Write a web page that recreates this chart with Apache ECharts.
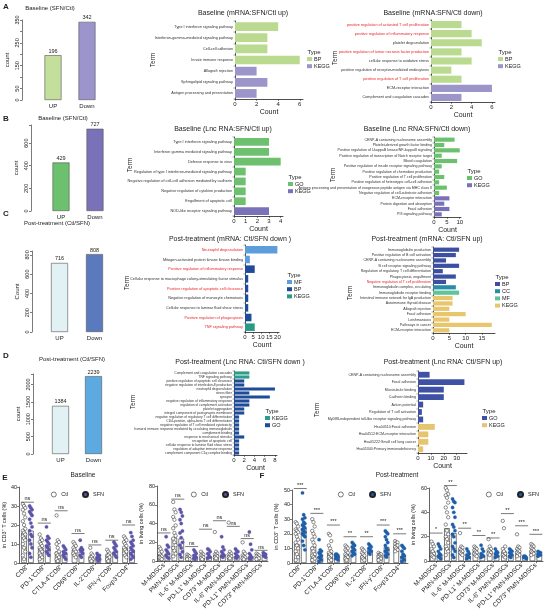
<!DOCTYPE html>
<html>
<head>
<meta charset="utf-8">
<script src="https://cdn.jsdelivr.net/npm/echarts@6/dist/echarts.min.js"></script>
<style>
html, body { margin: 0; padding: 0; background: #fff; }
#fig { width: 546px; height: 612px; }
</style>
</head>
<body>
<div id="fig"></div>
<script>
// ---- data: up / down counts ----
const countCats = ['UP', 'Down'];
const countA = [196, 342];
const countB = [429, 727];
const countC = [716, 808];
const countD = [1384, 2239];

// ---- data: enrichment terms ----
const termsA1 = ['Type I interferon signaling pathway', 'Interferon-gamma-mediated signaling pathway', 'Cell-cell adhesion',
  'Innate immune response', 'Allograft rejection', 'Sphingolipid signaling pathway', 'Antigen processing and presentation'];
const valsA1 = [4, 3, 3, 6, 2, 3, 2];
const typesA1 = ['BP', 'BP', 'BP', 'BP', 'KEGG', 'KEGG', 'KEGG'];

const termsA2 = ['positive regulation of activated T cell proliferation', 'positive regulation of inflammatory response',
  'platelet degranulation', 'positive regulation of tumor necrosis factor production', 'cellular response to oxidative stress',
  'positive regulation of receptor-mediated endocytosis', 'positive regulation of T cell proliferation',
  'ECM-receptor interaction', 'Complement and coagulation cascades'];
const valsA2 = [3, 4, 5, 3, 4, 2, 3, 6, 3];
const typesA2 = ['BP', 'BP', 'BP', 'BP', 'BP', 'BP', 'BP', 'KEGG', 'KEGG'];
const redA2 = [1, 1, 0, 1, 0, 0, 1, 0, 0];

const termsB1 = ['Type I interferon signaling pathway', 'Interferon gamma mediated signaling pathway', 'Defense response to virus',
  'Regulation of type I interferon-mediated signaling pathway', 'Negative regulation of cell-cell adhesion mediated by cadherin',
  'Negative regulation of cytokine production', 'Engulfment of apoptotic cell', 'NOD-like receptor signaling pathway'];
const valsB1 = [3, 3, 4, 1, 1, 1, 1, 3];
const typesB1 = ['GO', 'GO', 'GO', 'GO', 'GO', 'GO', 'GO', 'KEGG'];

const termsB2 = ['CENP-A containing nucleosome assembly', 'Platelet-derived growth factor binding',
  'Positive regulation of I-kappaB kinase/NF-kappaB signaling', 'Positive regulation of transcription of Notch receptor target',
  'Blood coagulation', 'Positive regulation of insulin receptor signaling pathway', 'Positive regulation of chemokine production',
  'Positive regulation of T cell proliferation', 'Positive regulation of heterotypic cell-cell adhesion',
  'Antigen processing and presentation of exogenous peptide antigen via MHC class II',
  'Negative regulation of cell-substrate adhesion', 'ECM-receptor interaction', 'Protein digestion and absorption',
  'Focal adhesion', 'PI3 signaling pathway'];
const valsB2 = [8, 4, 10, 3, 9, 3, 2, 4, 2, 5, 2, 6, 4, 6, 3];
const typesB2 = ['GO', 'GO', 'GO', 'GO', 'GO', 'GO', 'GO', 'GO', 'GO', 'GO', 'GO', 'KEGG', 'KEGG', 'KEGG', 'KEGG'];

const termsC1 = ['Neutrophil degranulation', 'Mitogen-activated protein kinase kinase binding',
  'Positive regulation of inflammatory response', 'Cellular response to macrophage colony-stimulating factor stimulus',
  'Positive regulation of apoptotic cell clearance', 'Negative regulation of monocyte chemotaxis',
  'Cellular response to laminar fluid shear stress', 'Positive regulation of phagocytosis', 'TNF signaling pathway'];
const valsC1 = [20, 3, 6, 2, 2, 2, 2, 4, 6];
const typesC1 = ['MF', 'MF', 'BP', 'BP', 'BP', 'BP', 'BP', 'BP', 'KEGG'];
const redC1 = [1, 0, 1, 0, 1, 0, 0, 1, 1];

const termsC2 = ['Immunoglobulin production', 'Positive regulation of B cell activation', 'CENP-A containing nucleosome assembly',
  'B cell receptor signaling pathway', 'Regulation of regulatory T cell differentiation', 'Phagocytosis, engulfment',
  'Negative regulation of T cell proliferation', 'Immunoglobulin complex, circulating', 'Immunoglobulin receptor binding',
  'Intestinal immune network for IgA production', 'Autoimmune thyroid disease', 'Allograft rejection', 'Focal adhesion',
  'Leishmaniasis', 'Pathways in cancer', 'ECM-receptor interaction'];
const valsC2 = [8, 7, 4, 8, 3, 7, 4, 7, 8, 6, 6, 5, 10, 5, 18, 5];
const typesC2 = ['BP', 'BP', 'BP', 'BP', 'BP', 'BP', 'BP', 'CC', 'MF', 'KEGG', 'KEGG', 'KEGG', 'KEGG', 'KEGG', 'KEGG', 'KEGG'];
const redC2 = [0, 0, 0, 0, 0, 0, 1, 0, 0, 0, 0, 0, 0, 0, 0, 0];

const termsD1 = ['Complement and coagulation cascades', 'TNF signaling pathway', 'positive regulation of apoptotic cell clearance',
  'negative regulation of interleukin-8 production', 'neutrophil degranulation', 'stress fiber', 'synapse',
  'negative regulation of inflammatory response', 'regulation of complement activation', 'platelet aggregation',
  'integral component of postsynaptic membrane', 'negative regulation of regulatory T cell differentiation',
  'CD4-positive, alpha-beta T cell differentiation', 'negative regulation of T cell mediated cytotoxicity',
  'humoral immune response mediated by circulating immunoglobulin', 'complement binding', 'response to mechanical stimulus',
  'recognition of apoptotic cell', 'cellular response to laminar fluid shear stress', 'regulation of adaptive immune response',
  'complement component C1q complex binding'];
const valsD1 = [3, 3, 2, 2, 8, 3, 7, 3, 3, 2, 2, 1, 1, 1, 1, 1, 2, 1, 1, 1, 1];
const typesD1 = ['KEGG', 'KEGG', 'GO', 'GO', 'GO', 'GO', 'GO', 'GO', 'GO', 'GO', 'GO', 'GO', 'GO', 'GO', 'GO', 'GO', 'GO', 'GO', 'GO', 'GO', 'GO'];

const termsD2 = ['CENP-A containing nucleosome assembly', 'Focal adhesion', 'Microtubule binding', 'Cadherin binding',
  'Action potential', 'Regulation of T cell activation', 'MyD88-independent toll-like receptor signaling pathway',
  'Hsa04510:Focal adhesion', 'Hsa04512:ECM-receptor interaction', 'Hsa05222:Small cell lung cancer',
  'Hsa05340:Primary immunodeficiency'];
const valsD2 = [9, 36, 20, 20, 4, 3, 4, 13, 8, 8, 4];
const typesD2 = ['GO', 'GO', 'GO', 'GO', 'GO', 'GO', 'GO', 'KEGG', 'KEGG', 'KEGG', 'KEGG'];

// ---- data: flow cytometry (E baseline, F post-treatment) ----
const tCells = ['CD8⁺', 'PD-1⁺CD8⁺', 'CTLA-4⁺CD8⁺', 'CD69⁺CD8⁺', 'IL-2⁺CD8⁺', 'IFN-γ⁺CD8⁺', 'Foxp3⁺CD4⁺'];
const mdscs = ['M-MDSCs', 'PMN-MDSCs', 'IL-6⁺ M-MDSCs', 'PD-L1⁺ M-MDSCs', 'CD73⁺ M-MDSCs', 'IL-6⁺ PMN-MDSCs',
  'PD-L1⁺ PMN-MDSCs', 'CD73⁺ PMN-MDSCs'];

const baseTCtl = [[31, 30, 29, 28, 26, 24, 22, 20, 18, 17, 16, 15, 14, 13, 12, 10, 8, 6, 4, 2],
  [15, 13, 12, 11, 10, 9, 8, 7, 6, 5, 4, 3, 2], [25, 12, 11, 10, 8, 6, 5, 4, 3, 2, 1],
  [11, 10, 9, 8, 7, 6, 5, 4, 3], [8, 5, 4, 3, 3, 2, 2, 1], [7, 6, 5, 4, 4, 3, 2, 1],
  [14, 13, 12, 11, 10, 9, 8, 7, 6, 5, 4, 3]];
const baseTSfn = [[30, 29, 28, 27, 26, 25, 23, 21, 19, 17, 15, 14, 12, 10, 8, 5, 3],
  [19, 14, 13, 12, 11, 10, 9, 8, 7, 6, 5, 4], [9, 8, 7, 6, 5, 5, 4, 3, 2],
  [12, 8, 7, 7, 6, 5, 4, 3], [5, 4, 4, 3, 3, 2, 2, 1], [11, 10, 9, 8, 7, 6, 5, 4, 3],
  [16, 14, 12, 11, 10, 9, 8, 7, 6, 5, 4, 3, 2]];
const baseTCtlMean = [16, 8, 6, 7, 3, 4, 8];
const baseTSfnMean = [17, 9, 5, 6, 3, 6, 7];
const baseTSig = ['ns', 'ns', 'ns', 'ns', 'ns', 'ns', 'ns'];
const baseTSigY = [32, 21, 27.5, 15.5, 9.5, 12, 20];

const baseMCtl = [[15, 13, 10, 8, 6, 5, 4, 3, 2], [63, 55, 52, 47, 44, 38, 35, 30, 27, 24, 20, 17, 14, 11, 8, 5],
  [7, 6, 5, 4, 3, 2, 2], [10, 8, 7, 6, 5, 4, 3, 2], [31, 10, 8, 7, 6, 5, 4, 3],
  [41, 10, 8, 7, 6, 5, 4, 3], [20, 10, 8, 6, 5, 4, 3, 2], [8, 7, 6, 5, 4, 3, 2]];
const baseMSfn = [[26, 17, 15, 12, 10, 8, 6, 4, 3], [55, 52, 48, 44, 40, 32, 30, 25, 20, 17, 14, 10, 7, 4],
  [12, 10, 8, 6, 5, 4, 3, 2], [13, 12, 10, 8, 6, 4, 3], [26, 15, 12, 10, 8, 6, 5, 4],
  [13, 11, 10, 8, 6, 5, 4, 3], [31, 18, 12, 8, 6, 4, 3, 2], [9, 8, 7, 6, 5, 4]];
const baseMCtlMean = [6, 25, 3, 4, 6, 5, 4, 4];
const baseMSfnMean = [8, 24, 4, 5, 7, 5, 5, 5];
const baseMSig = ['ns', 'ns', 'ns', 'ns', 'ns', 'ns', 'ns', 'ns'];
const baseMSigY = [30, 66, 15.5, 34, 43, 37, 24, 11.5];

const postTCtl = [[28, 27, 25, 23, 22, 21, 20, 18, 16, 14, 12, 10, 8, 6, 4, 2],
  [30, 28, 25, 22, 20, 18, 16, 14, 12, 10, 8, 6, 5, 4, 3, 2], [20, 19, 15, 12, 10, 8, 7, 6, 5, 4, 3, 2],
  [12, 11, 10, 9, 8, 7, 6, 5, 4, 3, 2], [10, 9, 8, 7, 6, 5, 4, 3, 2], [7, 6, 6, 5, 5, 4, 4, 3, 3, 2],
  [15, 14, 14, 13, 12, 12, 11, 10, 9, 8]];
const postTSfn = [[48, 33, 31, 30, 28, 27, 26, 25, 24, 23, 22, 21, 20, 19, 18, 15, 12, 9],
  [16, 9, 8, 7, 6, 5, 4, 3, 2, 1], [6, 6, 5, 5, 4, 4, 3, 3, 2],
  [14, 13, 12, 11, 10, 9, 8, 7, 6, 5], [13, 12, 11, 10, 9, 8, 7, 6], [22, 21, 20, 18, 16, 14, 12, 10, 9, 8, 7, 6, 5, 4],
  [12, 11, 10, 8, 6, 5, 4, 3, 2, 1]];
const postTCtlMean = [13, 11, 7, 6, 5, 4, 12];
const postTSfnMean = [24, 4, 4, 9, 9, 11, 5];
const postTSig = ['***', '***', '***', '**', '**', '***', '***'];
const postTSigY = [51, 34, 26, 18, 18, 26, 20];

const postMCtl = [[16, 14, 12, 10, 8, 6, 5, 4, 3], [60, 58, 55, 54, 52, 48, 44, 40, 36, 30, 25, 22, 20, 18, 15, 12, 10, 8, 5],
  [23, 12, 11, 10, 9, 8, 7, 6, 5], [12, 11, 10, 9, 8, 7, 6, 5, 4], [18, 12, 10, 9, 8, 7, 6, 5],
  [33, 27, 12, 10, 8, 6, 5, 4, 3], [22, 12, 11, 10, 9, 8, 7, 6, 5, 4], [14, 13, 12, 11, 10, 9, 8, 7, 6, 5]];
const postMSfn = [[14, 12, 10, 8, 6, 5, 4, 3, 2], [51, 49, 48, 44, 40, 36, 30, 28, 25, 22, 20, 15, 12, 10, 8, 5, 3],
  [10, 8, 6, 5, 4, 3, 2], [13, 10, 8, 6, 5, 4, 3], [10, 8, 7, 6, 5, 4, 3],
  [10, 9, 8, 7, 6, 5, 4, 3], [4, 4, 3, 3, 3, 2], [8, 7, 7, 6, 6, 5, 4]];
const postMCtlMean = [8, 27, 9, 8, 8, 8, 8, 9];
const postMSfnMean = [5, 23, 4, 5, 5, 5, 3, 6];
const postMSig = ['*', '**', '**', '**', '**', '**', '***', '***'];
const postMSigY = [23, 62, 27, 21, 19, 39, 29, 22];

// ---- chart ----
const FONT = 'Liberation Sans';
const INK = '#222';
const chart = echarts.init(document.getElementById('fig'), null, { renderer: 'canvas' });
const option = {
  animation: false,
  backgroundColor: '#fff',
  textStyle: { fontFamily: FONT },
  title: [], legend: [], grid: [], xAxis: [], yAxis: [], series: [], graphic: []
};

function txt(x, y, text, size, extra) {
  const e = Object.assign({ type: 'text', x: x, y: y, silent: true,
    style: { text: text, fontSize: size, fontFamily: FONT, fill: INK, align: 'center', verticalAlign: 'middle' } }, extra || {});
  if (extra && extra.style) e.style = Object.assign({ text: text, fontSize: size, fontFamily: FONT, fill: INK, align: 'center', verticalAlign: 'middle' }, extra.style);
  option.graphic.push(e);
}

function addTitle(text, cx, top, size) {
  option.title.push({ text: text, left: cx, top: top, textAlign: 'center', padding: 0,
    textStyle: { fontSize: size, fontWeight: 'normal', color: INK, fontFamily: FONT } });
}

// barplot of up / down counts
function countPanel(p) {
  const gi = option.grid.length;
  option.grid.push({ left: p.left, top: p.top, width: p.width, height: p.height });
  option.xAxis.push({ gridIndex: gi, type: 'category', data: countCats,
    axisLine: { show: false }, axisTick: { show: false },
    axisLabel: { fontSize: 6, color: INK, margin: 3 } });
  option.yAxis.push({ gridIndex: gi, type: 'value', min: 0, max: p.max, interval: p.interval, offset: p.offset,
    axisLine: { show: true, lineStyle: { color: INK, width: 0.6 } },
    axisTick: { show: true, length: 2, lineStyle: { color: INK, width: 0.6 } },
    splitLine: { show: false },
    axisLabel: { rotate: 90, fontSize: 5.5, color: INK, margin: 2,
      formatter: v => (p.labels.indexOf(v) >= 0 ? String(v) : '') },
    name: p.yName, nameLocation: 'middle', nameGap: 12, nameTextStyle: { fontSize: 6, color: INK } });
  option.series.push({ type: 'bar', xAxisIndex: gi, yAxisIndex: gi, barWidth: 17,
    data: p.vals.map((v, i) => ({ value: v, itemStyle: { color: p.colors[i] } })),
    itemStyle: { borderColor: '#555', borderWidth: 0.6 },
    label: { show: true, position: 'top', distance: 1, fontSize: 5.5, color: INK } });
}

// enrichment bar chart, one series per term type
function goPanel(p) {
  const gi = option.grid.length;
  option.grid.push({ left: p.left, top: p.top, width: p.width, height: p.height });
  option.yAxis.push({ gridIndex: gi, type: 'category', data: p.terms, inverse: true,
    axisLine: { show: true, lineStyle: { color: INK, width: 0.8 } },
    axisTick: { show: true, length: 1.5, lineStyle: { color: INK, width: 0.4 } },
    axisLabel: { fontSize: p.fs, margin: 2, interval: 0,
      color: (v, i) => (p.red && p.red[i] ? '#e8262b' : '#333') } });
  option.xAxis.push({ gridIndex: gi, type: 'value', min: 0, max: p.max, interval: p.interval,
    axisLine: { show: true, lineStyle: { color: INK, width: 0.8 } },
    axisTick: { show: true, length: 2, lineStyle: { color: INK, width: 0.5 } },
    splitLine: { show: false },
    axisLabel: { fontSize: 6, color: INK, margin: 2, showMaxLabel: false },
    name: 'Count', nameLocation: 'middle', nameGap: 10, nameTextStyle: { fontSize: 7, color: INK } });
  const kinds = p.types.filter((t, i) => p.types.indexOf(t) === i);
  kinds.forEach(k => {
    option.series.push({ type: 'bar', name: k, xAxisIndex: gi, yAxisIndex: gi, stack: 'go' + gi,
      barCategoryGap: '22%', itemStyle: { color: p.colors[k] },
      data: p.vals.map((v, i) => (p.types[i] === k ? v : null)) });
  });
  addTitle(p.title, p.tx, p.ty, 7);
  txt(p.lx + 7, p.ly - 4, 'Type', 6);
  option.legend.push({ left: p.lx, top: p.ly, orient: 'vertical', itemWidth: 5, itemHeight: 4, itemGap: 1.2,
    padding: 0, selectedMode: false, icon: 'rect',
    textStyle: { fontSize: 5.5, color: INK, fontFamily: FONT, padding: [0, 0, 0, -3] },
    data: kinds.map(k => ({ name: k, itemStyle: { color: p.colors[k] } })) });
  txt(p.termX, p.termY, 'Term', 6.5, { rotation: Math.PI / 2 });
}

// scatter dot plot with mean bars and significance brackets
function dotPanel(p) {
  const gi = option.grid.length;
  option.grid.push({ left: p.left, top: p.top, width: p.width, height: p.height });
  option.xAxis.push({ gridIndex: gi, type: 'category', data: p.cats,
    axisLine: { show: true, lineStyle: { color: INK, width: 0.7 } },
    axisTick: { show: true, length: 2, alignWithLabel: true, lineStyle: { color: INK, width: 0.6 } },
    axisLabel: { rotate: 45, fontSize: 6.5, color: INK, margin: 3, interval: 0 } });
  option.yAxis.push({ gridIndex: gi, type: 'value', min: 0, max: p.max, interval: p.interval,
    axisLine: { show: true, lineStyle: { color: INK, width: 0.7 } },
    axisTick: { show: true, length: 2, lineStyle: { color: INK, width: 0.6 } },
    splitLine: { show: false },
    axisLabel: { fontSize: 5.5, color: INK, margin: 2 },
    name: p.yName, nameLocation: 'middle', nameGap: p.nameGap, nameTextStyle: { fontSize: 5.5, color: INK } });
  const barStyle = { color: '#fff', borderColor: INK, borderWidth: 0.6 };
  option.series.push({ type: 'bar', name: 'Ctl', xAxisIndex: gi, yAxisIndex: gi, barWidth: 5.5, barGap: '25%',
    itemStyle: barStyle, data: p.ctlMean, z: 1 });
  option.series.push({ type: 'bar', name: 'SFN', xAxisIndex: gi, yAxisIndex: gi, barWidth: 5.5, barGap: '25%',
    itemStyle: barStyle, data: p.sfnMean, z: 1 });
  [p.ctl, p.sfn].forEach((groups, g) => {
    const pts = [];
    groups.forEach((arr, ci) => arr.forEach((v, k) => pts.push([ci, v, g, k])));
    option.series.push({ type: 'custom', name: g ? 'SFN' : 'Ctl', xAxisIndex: gi, yAxisIndex: gi, z: 3,
      encode: { x: 0, y: 1 }, data: pts,
      renderItem: (params, api) => {
        const c = api.coord([api.value(0), api.value(1)]);
        const k = api.value(3);
        const x = c[0] + (g ? 3.4 : -3.4) + ((k % 3) - 1) * 1.2;
        return { type: 'circle', shape: { cx: x, cy: c[1], r: 1.7 },
          style: g ? { fill: p.color, stroke: p.color, lineWidth: 0.3 }
                   : { fill: '#fff', stroke: INK, lineWidth: 0.5 } };
      } });
  });
  option.series.push({ type: 'custom', xAxisIndex: gi, yAxisIndex: gi, z: 4, clip: false,
    encode: { x: 0, y: 1 }, data: p.sigY.map((y, i) => [i, y]),
    renderItem: (params, api) => {
      const c = api.coord([api.value(0), api.value(1)]);
      return { type: 'group', children: [
        { type: 'line', shape: { x1: c[0] - 6.5, y1: c[1], x2: c[0] + 6.5, y2: c[1] },
          style: { stroke: INK, lineWidth: 0.6 } },
        { type: 'text', x: c[0], y: c[1] - 0.3,
          style: { text: p.sig[params.dataIndex], fontSize: 5.5, fontFamily: FONT, fill: INK,
            align: 'center', verticalAlign: 'bottom' } }
      ] };
    } });
  option.legend.push({ left: p.lx, top: p.ly, orient: 'horizontal', itemWidth: 5, itemHeight: 5, itemGap: 14,
    padding: 0, selectedMode: false,
    textStyle: { fontSize: 5.5, color: INK, fontFamily: FONT },
    data: [{ name: 'Ctl', icon: 'circle', itemStyle: { color: '#fff', borderColor: INK, borderWidth: 0.6 } },
           { name: 'SFN', icon: 'circle', itemStyle: { color: p.color } }] });
}

// ---- panel letters ----
[['A', 6, 7], ['B', 6, 119], ['C', 6, 214], ['D', 6, 356], ['E', 5, 478], ['F', 262, 476]].forEach(l =>
  txt(l[1], l[2], l[0], 8, { style: { fontWeight: 'bold' } }));

// ---- count panels ----
addTitle('Baseline (SFN/Ctl)', 50, 5, 6);
countPanel({ vals: countA, colors: ['#c3df9b', '#9b95cc'], left: 36, top: 20, width: 68, height: 80, offset: 14,
  max: 350, interval: 50, labels: [0, 50, 150, 250, 350], yName: 'count' });
addTitle('Baseline (SFN/Ctl)', 63, 115, 6);
countPanel({ vals: countB, colors: ['#6cc06e', '#7a72b8'], left: 44, top: 125, width: 68, height: 86, offset: 13,
  max: 760, interval: 200, labels: [0, 200, 400, 600], yName: 'count' });
addTitle('Post-treatment (Ctl/SFN)', 57, 220, 6);
countPanel({ vals: countC, colors: ['#e2f2f4', '#5b79bd'], left: 42, top: 251, width: 70, height: 81, offset: 10,
  max: 840, interval: 200, labels: [0, 200, 400, 600, 800], yName: 'Count' });
addTitle('Post-treatment (Ctl/SFN)', 72, 356, 6);
countPanel({ vals: countD, colors: ['#e2f2f4', '#5daae0'], left: 44, top: 374, width: 66, height: 80, offset: 11,
  max: 2300, interval: 500, labels: [0, 500, 1000, 1500, 2000], yName: 'count' });

// ---- enrichment panels ----
goPanel({ terms: termsA1, vals: valsA1, types: typesA1, colors: { BP: '#b9da8f', KEGG: '#9c95c9' }, fs: 3.8,
  left: 235, top: 21, width: 68, height: 78, max: 6.3, interval: 2,
  title: 'Baseline (mRNA:SFN/Ctl up)', tx: 243, ty: 10, lx: 307, ly: 56, termX: 153, termY: 60 });
goPanel({ terms: termsA2, vals: valsA2, types: typesA2, red: redA2, colors: { BP: '#b9da8f', KEGG: '#9c95c9' }, fs: 3.8,
  left: 431, top: 20, width: 64, height: 82, max: 6.3, interval: 2,
  title: 'Baseline (mRNA:SFN/Ctl down)', tx: 433, ty: 10, lx: 498, ly: 56, termX: 335, termY: 58 });
goPanel({ terms: termsB1, vals: valsB1, types: typesB1, colors: { GO: '#6cc06e', KEGG: '#7a72b8' }, fs: 3.8,
  left: 234, top: 137, width: 49, height: 79, max: 4.2, interval: 1,
  title: 'Baseline (Lnc RNA:SFN/Ctl up)', tx: 223, ty: 126, lx: 288, ly: 181, termX: 130, termY: 165 });
goPanel({ terms: termsB2, vals: valsB2, types: typesB2, colors: { GO: '#6cc06e', KEGG: '#7a72b8' }, fs: 3.6,
  left: 434, top: 137, width: 27, height: 80, max: 10.5, interval: 5,
  title: 'Baseline (Lnc RNA:SFN/Ctl down)', tx: 417, ty: 126, lx: 467, ly: 175, termX: 333, termY: 175 });
goPanel({ terms: termsC1, vals: valsC1, types: typesC1, red: redC1,
  colors: { BP: '#1e4c98', MF: '#5d9ddb', KEGG: '#2a9a86' }, fs: 3.8,
  left: 245, top: 245, width: 34, height: 87, max: 21, interval: 5,
  title: 'Post-treatment (mRNA: Ctl/SFN down )', tx: 230, ty: 236, lx: 287, ly: 279, termX: 127, termY: 283 });
goPanel({ terms: termsC2, vals: valsC2, types: typesC2, red: redC2,
  colors: { BP: '#3c4fa0', CC: '#2a8ca8', MF: '#5cc59a', KEGG: '#e8c66e' }, fs: 3.6,
  left: 433, top: 247, width: 62, height: 86, max: 19, interval: 5,
  title: 'Post-treatment (mRNA: Ctl/SFN up)', tx: 427, ty: 236, lx: 495, ly: 281, termX: 350, termY: 293 });
goPanel({ terms: termsD1, vals: valsD1, types: typesD1, colors: { KEGG: '#2b9d88', GO: '#1e4c98' }, fs: 3.3,
  left: 234, top: 371, width: 43, height: 84, max: 8.4, interval: 2,
  title: 'Post-treatment (Lnc RNA: Ctl/SFN down )', tx: 240, ty: 359, lx: 265, ly: 415, termX: 133, termY: 402 });
goPanel({ terms: termsD2, vals: valsD2, types: typesD2, colors: { GO: '#3f51a5', KEGG: '#e6c470' }, fs: 3.6,
  left: 418, top: 371, width: 49, height: 82, max: 38, interval: 10,
  title: 'Post-treatment (Lnc RNA: Ctl/SFN up)', tx: 443, ty: 359, lx: 482, ly: 415, termX: 317, termY: 410 });

// ---- flow cytometry panels ----
addTitle('Baseline', 83, 472, 6.5);
addTitle('Post-treatment', 397, 472, 6.5);
dotPanel({ cats: tCells, ctl: baseTCtl, sfn: baseTSfn, ctlMean: baseTCtlMean, sfnMean: baseTSfnMean,
  sig: baseTSig, sigY: baseTSigY, color: '#5b54a8', left: 18, top: 487, width: 119, height: 76,
  max: 40, interval: 10, yName: 'in CD3⁺ T cells (%)', nameGap: 10, lx: 51, ly: 491 });
dotPanel({ cats: mdscs, ctl: baseMCtl, sfn: baseMSfn, ctlMean: baseMCtlMean, sfnMean: baseMSfnMean,
  sig: baseMSig, sigY: baseMSigY, color: '#5b54a8', left: 157, top: 486, width: 111, height: 77,
  max: 80, interval: 20, yName: 'in living cells (%)', nameGap: 10, lx: 191, ly: 491 });
dotPanel({ cats: tCells, ctl: postTCtl, sfn: postTSfn, ctlMean: postTCtlMean, sfnMean: postTSfnMean,
  sig: postTSig, sigY: postTSigY, color: '#1f5ea8', left: 292, top: 490, width: 116, height: 73,
  max: 50, interval: 10, yName: 'in CD3⁺ T cells (%)', nameGap: 10, lx: 338, ly: 491 });
dotPanel({ cats: mdscs, ctl: postMCtl, sfn: postMSfn, ctlMean: postMCtlMean, sfnMean: postMSfnMean,
  sig: postMSig, sigY: postMSigY, color: '#1f5ea8', left: 429, top: 488, width: 114, height: 75,
  max: 60, interval: 20, yName: 'in living cells (%)', nameGap: 10, lx: 486, ly: 491 });

chart.setOption(option);
</script>
</body>
</html>
